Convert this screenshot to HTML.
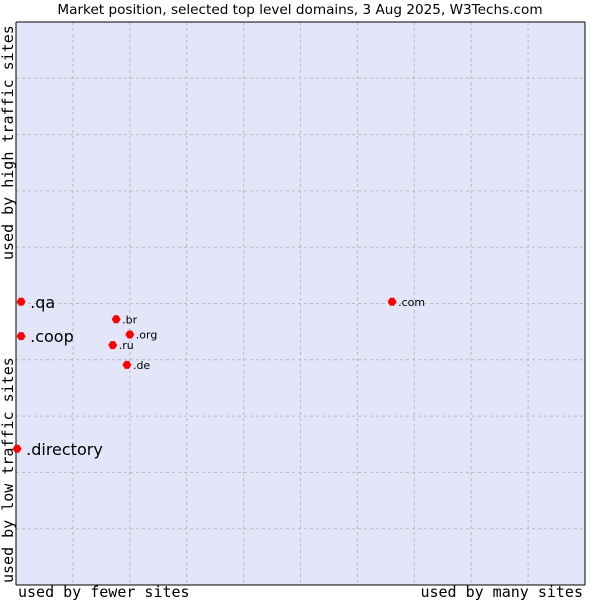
<!DOCTYPE html>
<html><head><meta charset="utf-8"><style>
body{margin:0;background:#fff;}
svg text{font-family:"DejaVu Sans","Liberation Sans",sans-serif;}
.mono{font-family:"DejaVu Sans Mono","Liberation Mono",monospace;}
</style></head><body>
<svg id="chart" width="600" height="600" xmlns="http://www.w3.org/2000/svg">
<text x="300" y="14" text-anchor="middle" font-size="13.6" fill="#000">Market position, selected top level domains, 3 Aug 2025, W3Techs.com</text>
<rect x="16" y="22" width="569" height="563" fill="#e3e5f8"/>
<g id="grid"></g>
<line x1="16" y1="22" x2="585" y2="22" stroke="#000"/>
<line x1="585" y1="22" x2="585" y2="585" stroke="#000"/>
<line x1="16" y1="585" x2="585" y2="585" stroke="#000"/>
<line x1="16" y1="22" x2="16" y2="585" stroke="#000"/>
<g id="points"></g>
<text class="mono" x="18" y="597" font-size="15">used by fewer sites</text>
<text class="mono" x="583" y="597" font-size="15" text-anchor="end">used by many sites</text>
<text class="mono" transform="translate(13,583) rotate(-90)" font-size="15">used by low traffic sites</text>
<text class="mono" transform="translate(13,260) rotate(-90)" font-size="15">used by high traffic sites</text>
</svg>
<script>
const domains=[".qa",".coop",".directory",".br",".org",".ru",".de",".com"];
const xValues=[0.9,0.9,0.2,17.6,20.0,17.0,19.5,66.1];
const yValues=[50.3,44.2,24.2,47.2,44.5,42.6,39.1,50.3];
const bigLabel=[true,true,true,false,false,false,false,false];
const L=16,T=22,W=569,H=563;
function sx(v){return L+v/100*W;}
function sy(v){return T+H-v/100*H;}
const NS="http://www.w3.org/2000/svg";
const grid=document.getElementById('grid');
for(let i=1;i<10;i++){
  const gx=document.createElementNS(NS,'line');
  
  
  gx.setAttribute('x1',sx(i*10));gx.setAttribute('x2',sx(i*10));
  gx.setAttribute('y1',T);gx.setAttribute('y2',T+H);
  gx.setAttribute('stroke','#bbbbbb');gx.setAttribute('stroke-dasharray','3,3');
  grid.appendChild(gx);
  const gy=document.createElementNS(NS,'line');
  
  
  gy.setAttribute('y1',sy(i*10));gy.setAttribute('y2',sy(i*10));
  gy.setAttribute('x1',L);gy.setAttribute('x2',L+W);
  gy.setAttribute('stroke','#bbbbbb');gy.setAttribute('stroke-dasharray','3,3');
  grid.appendChild(gy);
}
const pts=document.getElementById('points');
domains.forEach((d,i)=>{
  const x=sx(xValues[i]),y=sy(yValues[i]);
  const m=document.createElementNS(NS,'path');
  
  
  m.setAttribute('d',`M${x-4.5},${y} L${x-2},${y-4} L${x+2},${y-4} L${x+4.5},${y} L${x+2},${y+4} L${x-2},${y+4} Z`);
  m.setAttribute('fill','#ff0000');
  pts.appendChild(m);
  const t=document.createElementNS(NS,'text');
  
  
  t.setAttribute('x',x+(bigLabel[i]?9:6));
  t.setAttribute('y',y+(bigLabel[i]?6:4));
  t.setAttribute('font-size',bigLabel[i]?16:11);
  t.textContent=d;
  pts.appendChild(t);
});
</script>
</body></html>
